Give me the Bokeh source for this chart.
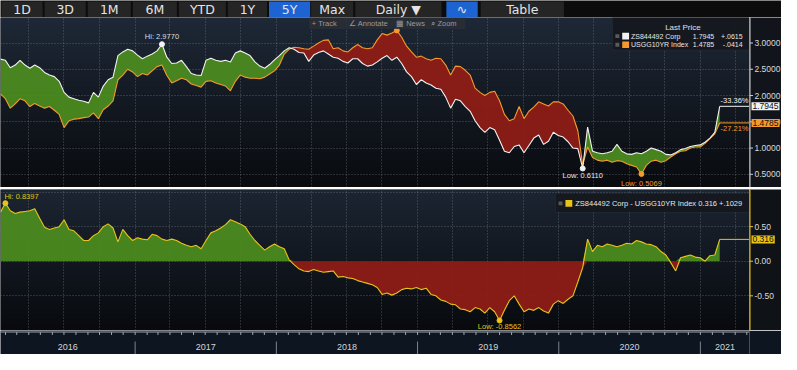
import numpy as np
import pandas as pd
from bokeh.plotting import figure
from bokeh.layouts import column, row
from bokeh.models import (Range1d, FixedTicker, Label, BoxAnnotation,
                          ColumnDataSource, Span)
from bokeh.embed import file_html
from bokeh.resources import INLINE
from bokeh.core.properties import value

# ---------------- data ----------------
series_names = ["ZS844492 Corp", "USGG10YR Index"]
spread_name = "ZS844492 Corp - USGG10YR Index"
first_date, last_date = "2016-01-19", "2021-02-20"

zs_corp = [
    2.6928, 2.67, 2.53, 2.58, 2.67, 2.58, 2.52, 2.58, 2.53, 2.44,
    2.39, 2.36, 2.27, 2.06, 1.97, 1.94, 1.91, 1.89, 1.86, 2.06,
    1.97, 2.18, 2.30, 2.35, 2.76, 2.83, 2.88, 2.85, 2.77, 2.70,
    2.75, 2.79, 2.85, 2.977, 2.73, 2.61, 2.62, 2.67, 2.55, 2.42,
    2.39, 2.38, 2.67, 2.71, 2.67, 2.65, 2.67, 2.64, 2.81, 2.85,
    2.81, 2.76, 2.64, 2.56, 2.52, 2.59, 2.68, 2.76, 2.85, 2.91,
    2.88, 2.82, 2.81, 2.65, 2.77, 2.82, 2.85, 2.79, 2.73, 2.71,
    2.65, 2.62, 2.70, 2.70, 2.61, 2.56, 2.58, 2.64, 2.71, 2.76,
    2.67, 2.73, 2.61, 2.45, 2.36, 2.21, 2.30, 2.24, 2.20, 2.14,
    2.12, 1.97, 1.76, 1.93, 1.90, 1.79, 1.70, 1.52, 1.39, 1.30,
    1.39, 1.35, 1.15, 0.94, 0.91, 1.03, 1.06, 0.91, 1.05, 1.19,
    1.25, 1.07, 1.13, 1.30, 1.24, 1.21, 1.12, 1.00, 0.99, 0.611,
    1.40, 0.94, 0.91, 0.89, 0.91, 0.94, 1.07, 0.94, 0.89, 0.88,
    0.91, 0.89, 0.94, 1.00, 0.97, 0.94, 0.88, 0.87, 0.91, 0.97,
    0.99, 1.03, 1.05, 1.06, 1.11, 1.19, 1.30, 1.7945,
]
usgg10yr = [
    2.0312, 1.94, 1.76, 1.84, 1.94, 1.90, 1.79, 1.85, 1.80, 1.76,
    1.79, 1.72, 1.64, 1.39, 1.52, 1.55, 1.56, 1.58, 1.59, 1.67,
    1.56, 1.73, 1.80, 1.90, 2.30, 2.39, 2.50, 2.45, 2.36, 2.42,
    2.39, 2.47, 2.55, 2.58, 2.38, 2.24, 2.28, 2.33, 2.30, 2.22,
    2.19, 2.16, 2.27, 2.28, 2.24, 2.21, 2.18, 2.09, 2.27, 2.39,
    2.35, 2.33, 2.33, 2.32, 2.35, 2.41, 2.47, 2.58, 2.79, 2.88,
    2.92, 2.91, 2.89, 2.88, 2.94, 3.00, 3.05, 3.06, 2.89, 2.91,
    2.85, 2.83, 2.91, 2.97, 2.91, 2.89, 2.91, 3.06, 3.18, 3.15,
    3.19, 3.24, 3.11, 2.94, 2.83, 2.73, 2.75, 2.70, 2.67, 2.71,
    2.70, 2.58, 2.39, 2.56, 2.55, 2.48, 2.39, 2.14, 2.06, 2.00,
    2.06, 2.08, 1.90, 1.64, 1.52, 1.56, 1.79, 1.56, 1.70, 1.78,
    1.88, 1.84, 1.80, 1.88, 1.88, 1.84, 1.72, 1.61, 1.33, 0.68,
    1.02, 0.82, 0.77, 0.75, 0.77, 0.73, 0.76, 0.75, 0.70, 0.67,
    0.64, 0.5069, 0.67, 0.75, 0.77, 0.73, 0.76, 0.83, 0.89, 0.94,
    0.95, 1.00, 1.02, 1.02, 1.09, 1.18, 1.27, 1.4785,
]
spread = [
    0.71, 0.8397, 0.73, 0.69, 0.71, 0.72, 0.73, 0.76, 0.62, 0.49,
    0.46, 0.48, 0.50, 0.60, 0.46, 0.44, 0.37, 0.30, 0.30, 0.37,
    0.41, 0.50, 0.54, 0.48, 0.28, 0.46, 0.37, 0.30, 0.34, 0.32,
    0.31, 0.39, 0.37, 0.32, 0.30, 0.32, 0.30, 0.26, 0.23, 0.21,
    0.23, 0.18, 0.30, 0.41, 0.44, 0.48, 0.53, 0.60, 0.57, 0.54,
    0.50, 0.39, 0.30, 0.23, 0.16, 0.21, 0.25, 0.21, 0.18, 0.02,
    -0.05, -0.11, -0.14, -0.15, -0.12, -0.14, -0.16, -0.15, -0.14, -0.23,
    -0.22, -0.24, -0.25, -0.28, -0.30, -0.32, -0.34, -0.38, -0.48, -0.46,
    -0.49, -0.46, -0.41, -0.39, -0.40, -0.38, -0.41, -0.39, -0.48, -0.50,
    -0.56, -0.58, -0.62, -0.63, -0.69, -0.70, -0.73, -0.67, -0.69, -0.75,
    -0.67, -0.73, -0.8562, -0.71, -0.57, -0.50, -0.62, -0.73, -0.69, -0.71,
    -0.67, -0.72, -0.75, -0.62, -0.57, -0.61, -0.55, -0.50, -0.30, -0.09,
    0.32, 0.14, 0.23, 0.21, 0.25, 0.23, 0.21, 0.23, 0.26, 0.25,
    0.30, 0.28, 0.25, 0.24, 0.21, 0.14, 0.09, -0.02, -0.14, 0.05,
    0.07, 0.09, 0.06, 0.05, 0.00, 0.08, 0.09, 0.316,
]
zs_change, usgg_change, spread_change = "+.0615", "-.0414", "+.1029"
years = [2016, 2017, 2018, 2019, 2020, 2021]
top_ticks = [0.5, 1.0, 1.5, 2.0, 2.5, 3.0]
bottom_ticks = [-0.5, 0.0, 0.5]
bottom_grid = [-1.0, -0.5, 0.0, 0.5, 1.0]
buttons = ["1D", "3D", "1M", "6M", "YTD", "1Y", "5Y", "Max", "Daily \u25BC", "\u223F", "Table"]
active_buttons = ["5Y", "\u223F"]
view_start, view_end = "2016-01-19", "2021-05-08"

# ---------------- styling / layout ----------------
FONT = "Liberation Sans"
WHITE, ORANGE, YELLOW = "#f2f2f2", "#f59a2c", "#e8c31a"
GREEN, RED = "#4b8a1f", "#8e1c16"
GRIDC = "#9aa3ad"
FW = 749          # chart frame width
RB = 32           # axis strip width
TOTAL_W = FW + RB


def ms(t):
    return pd.Timestamp(t).value / 1e6


dates = pd.date_range(first_date, last_date, periods=len(zs_corp))
dms = dates.asi8 / 1e6
W = np.asarray(zs_corp, float)
O = np.asarray(usgg10yr, float)
S = np.asarray(spread, float)

X0, X1 = ms(view_start), ms(view_end)
xr = Range1d(X0, X1)
REF_W = 765.0


def fx(px):            # frame-relative horizontal position -> date (ms)
    return X0 + (X1 - X0) * px / REF_W


def ty(py):            # top panel vertical position -> value
    return 3.0 - (py - 44.7) / 55.0


def by(py):            # bottom panel vertical position -> value
    return (273.3 - py) / 72.6


src = ColumnDataSource(dict(x=dms, w=W, o=O, hi=np.maximum(W, O),
                            s=S, spos=np.maximum(S, 0), sneg=np.minimum(S, 0)))

quarters = pd.date_range("2016-04-01", "2021-04-01", freq="QS")
quarter_ms = list(quarters.asi8 / 1e6)


def gradient(p, y0, y1, top_rgb, bot_rgb, n=80):
    t = np.linspace(0, 1, n)[:, None]
    img = np.empty((n, 1), dtype=np.uint32)
    v = img.view(dtype=np.uint8).reshape((n, 1, 4))
    for c in range(3):
        v[:, :, c] = (bot_rgb[c] + (top_rgb[c] - bot_rgb[c]) * t).astype(np.uint8)
    v[:, :, 3] = 255
    p.image_rgba(image=[img], x=X0, y=y0, dw=X1 - X0, dh=y1 - y0, level="image")


def chart(yr, fh, grid_ticks):
    p = figure(x_axis_type="datetime", x_range=xr, y_range=yr,
               frame_width=FW, frame_height=fh, min_border=0,
               x_axis_location=None, y_axis_location=None, toolbar_location=None,
               output_backend="svg", background_fill_color="#0b0d12",
               border_fill_color="#0b0d12", outline_line_color=None)
    p.xgrid.ticker = FixedTicker(ticks=quarter_ms)
    p.ygrid.ticker = FixedTicker(ticks=grid_ticks)
    for g in p.grid:
        g.grid_line_color = GRIDC
        g.grid_line_alpha = 0.45
        g.grid_line_dash = "1 2"
        g.grid_line_width = 1
    return p


def axis_strip(yr, fh, ticks, decimals, axis_color, bg):
    a = figure(x_range=Range1d(0, RB), y_range=yr, frame_width=RB, frame_height=fh,
               min_border=0, x_axis_location=None, y_axis_location=None,
               toolbar_location=None, output_backend="svg", background_fill_color=bg,
               border_fill_color=bg, outline_line_color=None)
    a.grid.visible = False
    a.add_layout(Span(location=0.5, dimension="height", line_color=axis_color, line_width=1))
    a.segment(x0=[0] * len(ticks), y0=ticks, x1=[3.5] * len(ticks), y1=ticks,
              line_color=axis_color, line_width=1)
    a.text(x=[5] * len(ticks), y=ticks, text=[f"{t:.{decimals}f}" for t in ticks],
           text_baseline="middle", text_align="left", text_color="#dadada",
           text_font=value(FONT), text_font_size="8.5px")
    return a


def lab(p, x, y, text, color, size="7.5px", align="left", baseline="middle",
        xo=0, yo=0, bg=None, pad=0):
    p.add_layout(Label(x=x, y=y, text=text, text_color=color, text_font=FONT,
                       text_font_size=size, text_align=align, text_baseline=baseline,
                       x_offset=xo, y_offset=yo, background_fill_color=bg, padding=pad))


def box(p, l, r, t, b, color, alpha=1.0, line=None):
    p.add_layout(BoxAnnotation(left=l, right=r, top=t, bottom=b, fill_color=color,
                               fill_alpha=alpha, line_color=line, line_width=1))


# ---------------- button bar ----------------
lefts = [1, 45, 89, 135, 182, 232, 274, 317, 362, 455, 490]
rights = [43, 87, 133, 180, 230, 272, 316, 360, 450, 487, 575]
bar = figure(x_range=Range1d(0, 797), y_range=Range1d(17, 0), frame_width=TOTAL_W,
             frame_height=17, min_border=0, x_axis_location=None, y_axis_location=None,
             toolbar_location=None, output_backend="svg", background_fill_color="#0c0c0c",
             border_fill_color="#0c0c0c", outline_line_color=None)
bar.grid.visible = False
bcol = ["#1e63d2" if b in active_buttons else "#252525" for b in buttons]
bar.quad(left=lefts, right=rights, top=[1] * len(buttons), bottom=[16.5] * len(buttons),
         fill_color=bcol, line_color=None)
bar.text(x=[(a + b) / 2 for a, b in zip(lefts, rights)], y=[9] * len(buttons), text=buttons,
         text_align="center", text_baseline="middle", text_color="#e4e4e4",
         text_font=value("DejaVu Sans"), text_font_size="12.5px")

# ---------------- top chart ----------------
top_yr = Range1d(ty(196), ty(18))
top = chart(top_yr, 170, top_ticks)
gradient(top, ty(196), ty(18), (30, 40, 54), (9, 11, 15))
top.varea(x="x", y1="o", y2="hi", source=src, fill_color=GREEN, fill_alpha=0.95)
top.varea(x="x", y1="w", y2="hi", source=src, fill_color=RED, fill_alpha=0.95)
top.line(x="x", y="o", source=src, line_color=ORANGE, line_width=1.1)
top.line(x="x", y="w", source=src, line_color=WHITE, line_width=1.1)

ih, il = int(np.argmax(W)), int(np.argmin(W))
oh, ol = int(np.argmax(O)), int(np.argmin(O))
top.scatter(x=[dms[ih], dms[il]], y=[W[ih], W[il]], size=5, color=WHITE)
top.scatter(x=[dms[oh], dms[ol]], y=[O[oh], O[ol]], size=5, color=ORANGE)
lab(top, dms[ih], W[ih], f"Hi: {W[ih]:.4f}", "#dedede", align="center", baseline="bottom", yo=3)
lab(top, dms[il], W[il], f"Low: {W[il]:.4f}", "#e8e8e8", align="center", baseline="top", yo=-3)
lab(top, dms[ol], O[ol], f"Low: {O[ol]:.4f}", ORANGE, align="center", baseline="top", yo=-5)

top.segment(x0=[dms[-1]], y0=[W[-1]], x1=[X1], y1=[W[-1]], line_color=WHITE, line_width=1)
top.segment(x0=[dms[-1]], y0=[O[-1]], x1=[X1], y1=[O[-1]], line_color=ORANGE, line_width=1)
lab(top, X1, W[-1], f"{(W[-1] / W[0] - 1) * 100:.2f}%", WHITE, align="right",
    baseline="bottom", xo=-1, yo=1)
lab(top, X1, O[-1], f"{(O[-1] / O[0] - 1) * 100:.2f}%", ORANGE, align="right",
    baseline="top", xo=-1, yo=-1)

# tool overlay
box(top, fx(315), fx(475), ty(18), ty(30), "#2a2e35", 0.85)
for px, t in zip([318, 356, 404, 440], ["+ Track", "\u2220 Annotate", "\u25A6 News", "\u2315 Zoom"]):
    lab(top, fx(px), ty(24), t, "#9a9a9a", size="7.5px")

# legend
box(top, fx(625), fx(765), ty(18), ty(52), "#15181d", 0.92, "#3a3f46")
lab(top, fx(697), ty(28), "Last Price", "#e0e0e0", size="8px", align="center")
for row_y, col, name, last, chg in [(37.5, WHITE, series_names[0], W[-1], zs_change),
                                    (46.5, ORANGE, series_names[1], O[-1], usgg_change)]:
    box(top, fx(628), fx(632), ty(row_y - 2), ty(row_y + 2), "#5a5a5a")
    box(top, fx(635), fx(642), ty(row_y - 3.5), ty(row_y + 3.5), col)
    lab(top, fx(644), ty(row_y), name, "#e6e6e6", size="7px")
    lab(top, fx(729), ty(row_y), f"{last:.4f}", "#e6e6e6", size="7px", align="right")
    lab(top, fx(758), ty(row_y), chg, "#e6e6e6", size="7px", align="right")

top_ax = axis_strip(top_yr, 170, top_ticks, 4, "#cfcfcf", "#11151b")
lab(top_ax, 2, W[-1], f"{W[-1]:.4f}", "#111111", size="8.5px", bg=WHITE, pad=1)
lab(top_ax, 2, O[-1], f"{O[-1]:.4f}", "#111111", size="8.5px", bg=ORANGE, pad=1)

# ---------------- separator ----------------
sep = figure(x_range=Range1d(0, 1), y_range=Range1d(0, 1), frame_width=TOTAL_W, frame_height=2,
             min_border=0, x_axis_location=None, y_axis_location=None, toolbar_location=None,
             output_backend="svg", background_fill_color="#626870",
             border_fill_color="#626870", outline_line_color=None)
sep.grid.visible = False

# ---------------- bottom chart ----------------
bot_yr = Range1d(by(346), by(198))
bot = chart(bot_yr, 141, bottom_grid)
gradient(bot, by(346), by(198), (28, 37, 50), (8, 10, 14))
bot.varea(x="x", y1=0, y2="spos", source=src, fill_color=GREEN, fill_alpha=0.95)
bot.varea(x="x", y1="sneg", y2=0, source=src, fill_color=RED, fill_alpha=0.95)
bot.line(x="x", y="s", source=src, line_color=YELLOW, line_width=1.1)

sh, sl = int(np.argmax(S)), int(np.argmin(S))
bot.scatter(x=[dms[sh], dms[sl]], y=[S[sh], S[sl]], size=5, color=YELLOW)
lab(bot, dms[sh], S[sh], f"Hi: {S[sh]:.4f}", YELLOW, align="left", baseline="bottom", xo=-1, yo=2)
lab(bot, dms[sl], S[sl], f"Low: {S[sl]:.4f}", YELLOW, align="center", baseline="top", yo=-2)
bot.segment(x0=[dms[-1]], y0=[S[-1]], x1=[X1], y1=[S[-1]], line_color=YELLOW, line_width=1)

box(bot, fx(567), fx(765), by(202), by(222), "#15181d", 0.92, "#3a3f46")
box(bot, fx(570), fx(574), by(210.5), by(214.5), "#5a5a5a")
box(bot, fx(577), fx(584), by(209), by(216), YELLOW)
lab(bot, fx(587), by(212.5), f"{spread_name} {S[-1]:.3f}  {spread_change}", "#e6e6e6")

bot_ax = axis_strip(bot_yr, 141, bottom_ticks, 2, YELLOW, "#0f1318")
lab(bot_ax, 2, S[-1], f"{S[-1]:.3f}", "#111111", size="8.5px", bg=YELLOW, pad=1)

# ---------------- date strip ----------------
strip = figure(x_range=xr, y_range=Range1d(370, 346), frame_width=FW, frame_height=24,
               min_border_left=0, min_border_right=RB, min_border_top=0, min_border_bottom=0,
               x_axis_location=None, y_axis_location=None, toolbar_location=None,
               output_backend="svg", background_fill_color="#0c1520",
               border_fill_color="#0c1520", outline_line_color=None)
strip.grid.visible = False
strip.add_layout(Span(location=347.5, dimension="width", line_color="#a0a6ad", line_width=1))
months = pd.date_range("2016-02-01", "2021-05-01", freq="MS").asi8 / 1e6
strip.segment(x0=months, y0=[347.5] * len(months), x1=months, y1=[350.5] * len(months),
              line_color="#a0a6ad", line_width=1)
bounds = np.array([ms(f"{y}-01-01") for y in years[1:]])
strip.segment(x0=bounds, y0=[357] * len(bounds), x1=bounds, y1=[370] * len(bounds),
              line_color="#7d848c", line_width=1)
mids = [(max(X0, ms(f"{y}-01-01")) + min(X1, ms(f"{y + 1}-01-01"))) / 2 for y in years]
strip.text(x=mids, y=[362.5] * len(years), text=[str(y) for y in years], text_align="center",
           text_baseline="middle", text_color="#d6d6d6", text_font=value(FONT),
           text_font_size="9px")

layout = column(bar, row(top, top_ax, spacing=0), sep, row(bot, bot_ax, spacing=0), strip,
                spacing=0)
open("out.html", "w").write(file_html(layout, INLINE, "ZS844492 Corp vs USGG10YR Index"))
